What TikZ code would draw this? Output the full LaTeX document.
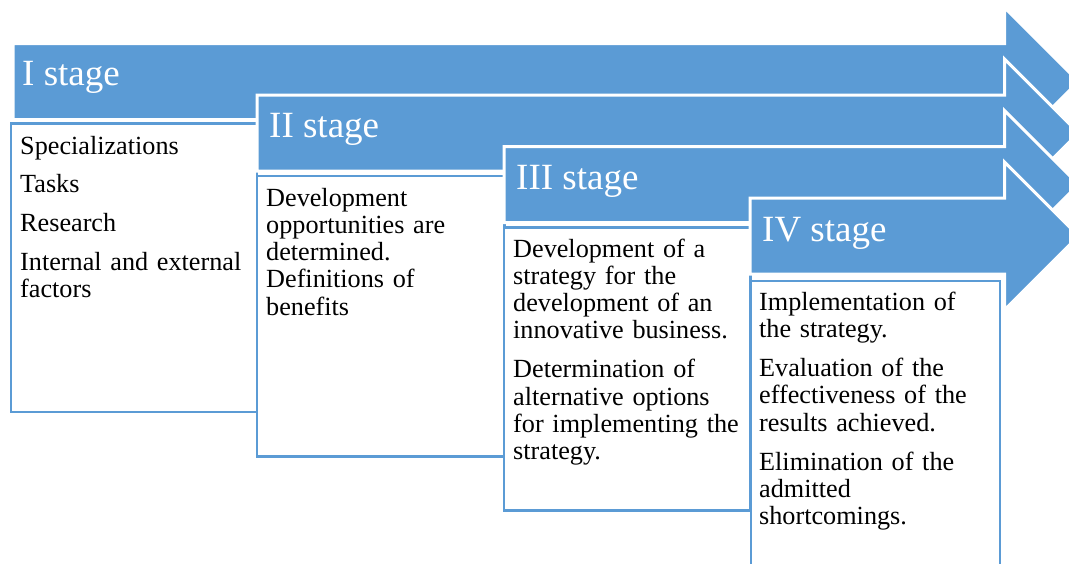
\documentclass[tikz,border=0pt]{standalone}
\usepackage{fontspec}
\setmainfont{Liberation Serif}
\definecolor{stageblue}{RGB}{91,155,213}
\begin{document}
\begin{tikzpicture}[x=1pt,y=-1pt,
  arrowshape/.style={fill=stageblue, draw=white, line width=3pt, line join=miter},
  boxshape/.style={fill=white, draw=stageblue, line width=2.5pt},
  stagetext/.style={text=white, font=\fontsize{37}{40}\selectfont, anchor=base west, inner sep=0pt},
  bodytext/.style={text=black, font=\fontsize{26.2}{27.3}\selectfont, anchor=base west, inner sep=0pt, align=left, text width=236pt}]
\useasboundingbox (0,0) rectangle (1069,563);
\clip (0,0) rectangle (1069,563);
% stage I
\path[arrowshape] (13,43.5) -- (1004.5,43.5) -- (1004.5,7.5) -- (1078.5,81.5) -- (1004.5,155.5) -- (1004.5,119.5) -- (13,119.5) -- cycle;
\node[stagetext] (s1) at (22,85) {I stage};
\path[boxshape] (11,123.5) rectangle (257,412);
\node[bodytext] (t1) at (20,154) {Specializations\\[11.4pt]Tasks\\[11.4pt]Research\\[11.4pt]Internal and external\\factors};
% stage II
\path[arrowshape] (257,95) -- (1004.5,95) -- (1004.5,59) -- (1078.5,133) -- (1004.5,207) -- (1004.5,171) -- (257,171) -- cycle;
\node[stagetext] (s2) at (269,137.3) {II stage};
\path[boxshape] (257,176) rectangle (504.5,456.5);
\node[bodytext] (t2) at (266,206) {Development\\opportunities are\\determined.\\Definitions of\\benefits};
% stage III
\path[arrowshape] (504,146.5) -- (1004.5,146.5) -- (1004.5,110.5) -- (1078.5,184.5) -- (1004.5,258.5) -- (1004.5,222.5) -- (504,222.5) -- cycle;
\node[stagetext] (s3) at (516,189.3) {III stage};
\path[boxshape] (504,227.5) rectangle (750.5,510.5);
\node[bodytext] (t3) at (513,257) {Development of a\\strategy for the\\development of an\\innovative business.\\[11.6pt]Determination of\\alternative options\\for implementing the\\strategy.};
% stage IV
\path[arrowshape] (750,198) -- (1004.5,198) -- (1004.5,162) -- (1078.5,236) -- (1004.5,310) -- (1004.5,274) -- (750,274) -- cycle;
\node[stagetext] (s4) at (762,241) {IV stage};
\path[boxshape] (751,281) rectangle (1000,590);
\node[bodytext] (t4) at (759,310) {Implementation of\\the strategy.\\[11.8pt]Evaluation of the\\effectiveness of the\\results achieved.\\[11.8pt]Elimination of the\\admitted\\shortcomings.};
\end{tikzpicture}
\end{document}
